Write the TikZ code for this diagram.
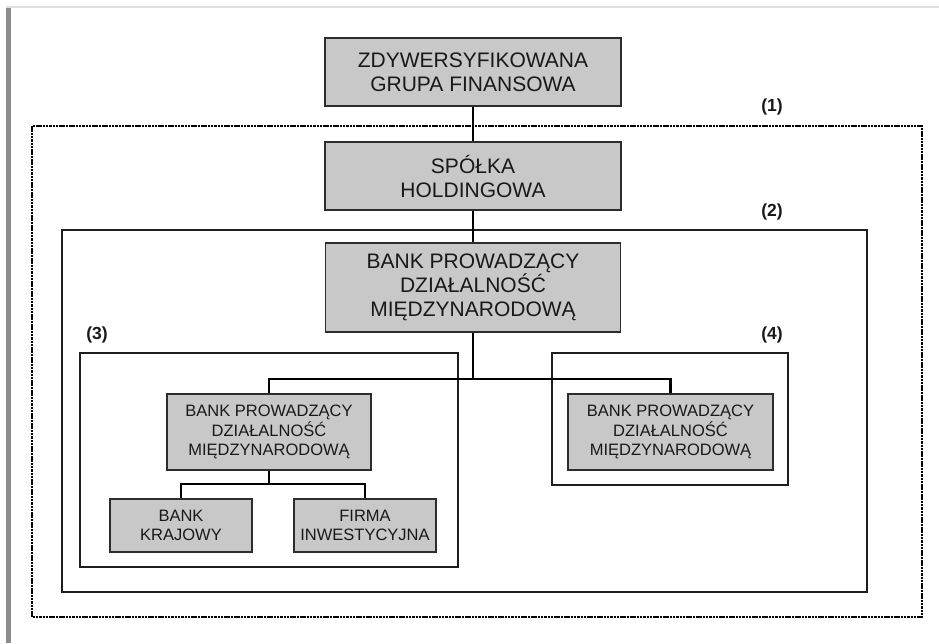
\documentclass[tikz,border=0pt]{standalone}
\usepackage{fontspec}
\setmainfont{Liberation Sans}
\definecolor{boxfill}{RGB}{200,200,200}
\definecolor{boxline}{RGB}{45,45,45}
\definecolor{txt}{RGB}{25,25,25}
\definecolor{framec}{RGB}{30,30,30}
\begin{document}
\begin{tikzpicture}[x=1pt,y=-1pt,
  bigbox/.style={draw=boxline,fill=boxfill,line width=1.5pt,inner sep=0pt,align=center,text=txt,
    font=\fontsize{21}{24}\selectfont},
  smallbox/.style={draw=boxline,fill=boxfill,line width=1.5pt,inner sep=0pt,align=center,text=txt,
    font=\fontsize{16.5}{19.5}\selectfont},
  conn/.style={draw=black,line width=2.3pt},
  frame/.style={draw=framec,line width=2.3pt},
  dframe/.style={draw=black,line width=2.4pt,dash pattern=on 2.5pt off 0.8pt},
  lbl/.style={font=\bfseries\fontsize{17.5}{20}\selectfont,text=txt,inner sep=0pt}]
\useasboundingbox (0,0) rectangle (939,643);
\fill[white] (0,0) rectangle (939,643);
% page decoration
\fill[gray!90] (6,8) rectangle (11,643);
\draw[gray!25,line width=1.5pt] (6,7) -- (939,7);
% frames
\draw[dframe] (32,126) rectangle (922,617);
\draw[frame] (62,230) rectangle (867,592);
\draw[frame] (80,353) rectangle (458,567);
\draw[frame] (552,353) rectangle (788,485);
\node[lbl] (l1) at (772,107) {(1)};
\node[lbl] (l2) at (772,212) {(2)};
\node[lbl] (l3) at (97,335) {(3)};
\node[lbl] (l4) at (772,335) {(4)};
% nodes
\node[bigbox,minimum width=296pt,minimum height=68pt] (top) at (473,72) {ZDYWERSYFIKOWANA\\GRUPA FINANSOWA};
\node[bigbox,minimum width=296pt,minimum height=68pt] (hold) at (473,176) {SPÓŁKA\\HOLDINGOWA};
\node[bigbox,minimum width=295pt,minimum height=89pt] (main) at (473,287.5) {BANK PROWADZĄCY\\DZIAŁALNOŚĆ\\MIĘDZYNARODOWĄ};
\node[smallbox,minimum width=204pt,minimum height=76pt] (lsub) at (269,432) {BANK PROWADZĄCY\\DZIAŁALNOŚĆ\\MIĘDZYNARODOWĄ};
\node[smallbox,minimum width=205pt,minimum height=76pt] (rsub) at (670.5,432) {BANK PROWADZĄCY\\DZIAŁALNOŚĆ\\MIĘDZYNARODOWĄ};
\node[smallbox,minimum width=142pt,minimum height=53pt] (bk) at (181,525.5) {BANK\\KRAJOWY};
\node[smallbox,minimum width=142pt,minimum height=53pt] (fi) at (365,525.5) {FIRMA\\INWESTYCYJNA};
% connectors
\coordinate (j1) at (473,379);
\coordinate (j2) at (269,484);
\draw[conn] (top.south) -- (hold.north);
\draw[conn] (hold.south) -- (main.north);
\draw[conn] (main.south) -- (j1);
\draw[conn] (j1) -| (lsub.north);
\draw[conn] (j1) -| (rsub.north);
\draw[conn] (lsub.south) -- (j2);
\draw[conn] (j2) -| (bk.north);
\draw[conn] (j2) -| (fi.north);
\end{tikzpicture}
\end{document}
